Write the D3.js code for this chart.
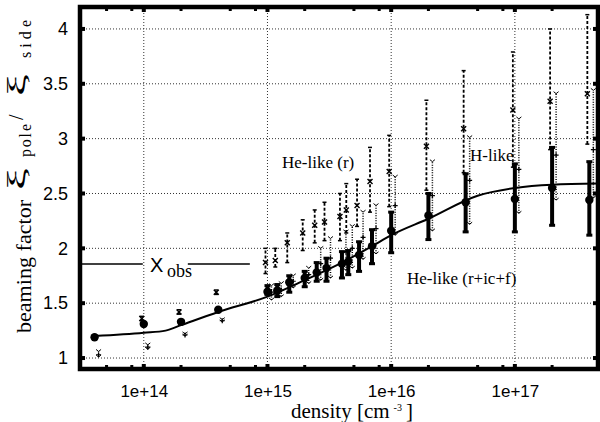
<!DOCTYPE html>
<html>
<head>
<meta charset="utf-8">
<script src="https://cdn.jsdelivr.net/npm/d3@7"></script>
<style>
  body { margin: 0; background: #fff; }
  svg { display: block; }
</style>
</head>
<body>
<svg width="600" height="422"></svg>
<script>
// values (density in cm^-3, beaming factor)
const densities = [4e13, 1e14, 2e14, 4e14, 1e15, 1.2e15, 1.5e15, 2e15, 2.5e15, 3e15,
                   4e15, 4.5e15, 5.5e15, 7e15, 1e16, 2e16, 4e16, 1e17, 2e17, 4e17];

// He-like (r+ic+f) - thick bars + filled dots
const fullVals = [1.19, 1.31, 1.33, 1.44, 1.605, 1.615, 1.69, 1.73, 1.78, 1.82,
                  1.86, 1.88, 1.94, 2.02, 2.16, 2.30, 2.42, 2.45, 2.55, 2.44];
const fullLo   = [1.18, 1.30, 1.32, 1.43, 1.58, 1.56, 1.60, 1.65, 1.70, 1.70,
                  1.73, 1.76, 1.79, 1.86, 1.96, 2.08, 2.15, 2.15, 2.21, 2.12];
const fullHi   = [1.20, 1.32, 1.34, 1.45, 1.66, 1.67, 1.75, 1.79, 1.87, 1.91,
                  1.97, 1.98, 2.06, 2.17, 2.33, 2.50, 2.68, 2.77, 2.92, 2.79];

// He-like (r) - dashed bars
const resVals = [null, 1.36, 1.42, 1.60, 1.87, 1.89, 2.05, 2.14, 2.21, 2.24,
                 2.29, 2.35, 2.39, 2.61, 2.70, 2.93, 3.09, 3.26, 3.34, 3.41];
const resLo   = [null, 1.34, 1.40, 1.58, 1.77, 1.83, 1.87, 1.98, 2.05, 2.07,
                 2.07, 2.14, 2.20, 2.33, 2.38, 2.53, 2.69, 2.74, 2.90, 2.95];
const resHi   = [null, 1.38, 1.44, 1.62, 2.00, 2.00, 2.14, 2.26, 2.35, 2.42,
                 2.50, 2.59, 2.63, 2.92, 3.03, 3.35, 3.62, 3.79, 4.00, 4.13];

// H-like - dotted bars
const hVals = [1.03, 1.10, 1.21, 1.34, 1.60, 1.62, 1.70, 1.76, 1.86, 1.91,
               1.97, 2.00, 2.10, 2.18, 2.39, 2.48, 2.62, 2.72, 2.85, 2.90];
const hLo   = [1.01, 1.08, 1.20, 1.33, 1.53, 1.56, 1.64, 1.68, 1.71, 1.73,
               1.80, 1.82, 1.90, 1.95, 2.12, 2.16, 2.22, 2.32, 2.44, 2.46];
const hHi   = [1.06, 1.12, 1.22, 1.35, 1.66, 1.68, 1.75, 1.82, 2.00, 2.09,
               2.15, 2.20, 2.33, 2.39, 2.65, 2.79, 3.01, 3.18, 3.41, 3.44];

// model curve
const curveDens = [4e13, 1e14, 1.5e14, 2e14, 4e14, 1e15, 2e15, 4e15, 7e15, 1e16,
                   2e16, 5e16, 1e17, 2e17, 4.7e17];
const curveVals = [1.20, 1.23, 1.25, 1.30, 1.42, 1.56, 1.71, 1.87, 2.02, 2.12,
                   2.27, 2.48, 2.55, 2.58, 2.59];

const xTicks = [1e14, 1e15, 1e16, 1e17];
const xMinor = [2e13, 5e13, 8e13, 2e14, 5e14, 8e14, 2e15, 5e15, 8e15, 2e16, 5e16, 8e16, 2e17];
const yTicks = [1, 1.5, 2, 2.5, 3, 3.5, 4];
const xObs = 1.857;

const sans = '"Liberation Sans", Arial, sans-serif';
const serif = '"Liberation Serif", "Times New Roman", serif';

const svg = d3.select('svg');
const plot = { left: 80, right: 598, top: 7, bottom: 369 };

const x = d3.scaleLog().domain([3.05e13, 4.7e17]).range([plot.left, plot.right]);
const y = d3.scaleLinear().domain([0.9, 4.2]).range([plot.bottom, plot.top]);

// dotted grid
const grid = svg.append('g')
    .attr('stroke', '#333')
    .attr('stroke-width', 1)
    .attr('stroke-dasharray', '1,2');
grid.selectAll('.gy').data(yTicks).enter().append('line')
    .attr('x1', plot.left).attr('x2', plot.right)
    .attr('y1', d => y(d)).attr('y2', d => y(d));
grid.selectAll('.gx').data(xTicks).enter().append('line')
    .attr('x1', d => x(d)).attr('x2', d => x(d))
    .attr('y1', plot.top).attr('y2', plot.bottom);

// tick squares on all four sides
const ticks = svg.append('g').attr('fill', '#000');
yTicks.forEach(v => {
    ticks.append('rect').attr('x', plot.left).attr('y', y(v) - 2).attr('width', 5).attr('height', 4);
    ticks.append('rect').attr('x', plot.right - 5).attr('y', y(v) - 2).attr('width', 5).attr('height', 4);
});
xTicks.forEach(v => {
    ticks.append('rect').attr('x', x(v) - 2).attr('y', plot.bottom - 5).attr('width', 4).attr('height', 5);
    ticks.append('rect').attr('x', x(v) - 2).attr('y', plot.top).attr('width', 4).attr('height', 5);
});
xMinor.filter(v => x(v) > plot.left + 3 && x(v) < plot.right - 3).forEach(v => {
    ticks.append('rect').attr('x', x(v) - 1.5).attr('y', plot.bottom - 4).attr('width', 3).attr('height', 3);
    ticks.append('rect').attr('x', x(v) - 1.5).attr('y', plot.top + 1).attr('width', 3).attr('height', 3);
});

// axis labels via d3 axes (no tick lines, no domain)
svg.append('g')
    .attr('transform', `translate(${plot.left},0)`)
    .call(d3.axisLeft(y).tickValues(yTicks).tickSize(0).tickPadding(12).tickFormat(d => String(d)))
    .call(g => g.select('.domain').remove())
    .selectAll('text')
    .attr('font-family', sans).attr('font-size', 18).attr('fill', '#000');

svg.append('g')
    .attr('transform', `translate(0,${plot.bottom})`)
    .call(d3.axisBottom(x).tickValues(xTicks).tickSize(0).tickPadding(16)
        .tickFormat(d => '1e+' + Math.round(Math.log10(d))))
    .call(g => g.select('.domain').remove())
    .selectAll('text')
    .attr('font-family', sans).attr('font-size', 17).attr('fill', '#000');

// build rows for each series
function rows(vals, lo, hi) {
    return densities.map((d, i) => ({ d: d, v: vals[i], lo: lo[i], hi: hi[i] }))
        .filter(r => r.v !== null);
}
const fullData = rows(fullVals, fullLo, fullHi);
const resData = rows(resVals, resLo, resHi);
const hData = rows(hVals, hLo, hHi);

// He-like (r): dashed bars, slightly left
const res = svg.append('g').attr('stroke', '#000').attr('fill', 'none');
resData.forEach(r => {
    const cx = x(r.d) - 2;
    res.append('line').attr('x1', cx).attr('x2', cx)
        .attr('y1', y(r.lo)).attr('y2', y(r.hi))
        .attr('stroke-width', 1.8).attr('stroke-dasharray', '3,2');
    [r.lo, r.hi].forEach(e => res.append('line')
        .attr('x1', cx - 2).attr('x2', cx + 2).attr('y1', y(e)).attr('y2', y(e)).attr('stroke-width', 1.5));
    res.append('path')
        .attr('d', `M${cx - 2.5},${y(r.v) - 2.5}L${cx + 2.5},${y(r.v) + 2.5}M${cx + 2.5},${y(r.v) - 2.5}L${cx - 2.5},${y(r.v) + 2.5}`)
        .attr('stroke-width', 1.4);
});

// H-like: dotted bars, slightly right
const hl = svg.append('g').attr('stroke', '#000').attr('fill', 'none');
hData.forEach(r => {
    const cx = x(r.d) + 4;
    hl.append('line').attr('x1', cx).attr('x2', cx)
        .attr('y1', y(r.lo)).attr('y2', y(r.hi))
        .attr('stroke-width', 1.5).attr('stroke-dasharray', '1,1.5');
    [r.lo, r.hi].forEach(e => hl.append('path')
        .attr('d', `M${cx - 2.5},${y(e) - 2}L${cx},${y(e)}L${cx + 2.5},${y(e) - 2}`).attr('stroke-width', 1));
    hl.append('path')
        .attr('d', `M${cx - 2.5},${y(r.v)}L${cx + 2.5},${y(r.v)}M${cx},${y(r.v) - 2.5}L${cx},${y(r.v) + 2.5}`)
        .attr('stroke-width', 1.2);
});

// model curve
const line = d3.line()
    .x((d, i) => x(d))
    .y((d, i) => y(curveVals[i]))
    .curve(d3.curveMonotoneX);
svg.append('path')
    .datum(curveDens)
    .attr('fill', 'none')
    .attr('stroke', '#000')
    .attr('stroke-width', 2)
    .attr('d', line);

// He-like (r+ic+f): thick bars with square caps and dots
const full = svg.append('g');
full.selectAll('.bar').data(fullData).enter().append('line')
    .attr('x1', d => x(d.d)).attr('x2', d => x(d.d))
    .attr('y1', d => y(d.lo)).attr('y2', d => y(d.hi))
    .attr('stroke', '#000').attr('stroke-width', 4);
fullData.forEach(r => {
    [r.lo, r.hi].forEach(e => full.append('rect')
        .attr('x', x(r.d) - 3).attr('y', y(e) - 1.5).attr('width', 6).attr('height', 3).attr('fill', '#000'));
});
full.selectAll('circle').data(fullData).enter().append('circle')
    .attr('cx', d => x(d.d)).attr('cy', d => y(d.v)).attr('r', 4.2).attr('fill', '#000');

// observed value line with X_obs label
const obsG = svg.append('g');
obsG.append('line')
    .attr('x1', plot.left).attr('x2', x(1e14) - 1)
    .attr('y1', y(xObs)).attr('y2', y(xObs))
    .attr('stroke', '#000').attr('stroke-width', 1.5);
obsG.append('line')
    .attr('x1', x(2.27e14)).attr('x2', x(7.2e14))
    .attr('y1', y(xObs)).attr('y2', y(xObs))
    .attr('stroke', '#000').attr('stroke-width', 1.5);
obsG.append('text')
    .attr('x', 150).attr('y', 272)
    .attr('font-family', sans).attr('font-size', 20)
    .text('X');
obsG.append('text')
    .attr('x', 167).attr('y', 277)
    .attr('font-family', serif).attr('font-size', 18)
    .text('obs');

// series labels
svg.append('text').attr('x', 282).attr('y', 168)
    .attr('font-family', serif).attr('font-size', 17).text('He-like (r)');
svg.append('text').attr('x', 470).attr('y', 161)
    .attr('font-family', serif).attr('font-size', 17).text('H-like');
svg.append('text').attr('x', 407).attr('y', 284)
    .attr('font-family', serif).attr('font-size', 17).text('He-like (r+ic+f)');

// frame
svg.append('rect')
    .attr('x', plot.left).attr('y', plot.top)
    .attr('width', plot.right - plot.left).attr('height', plot.bottom - plot.top)
    .attr('fill', 'none').attr('stroke', '#000').attr('stroke-width', 4.5);

// x title
const xt = svg.append('text')
    .attr('x', 352).attr('y', 418)
    .attr('text-anchor', 'middle')
    .attr('font-family', serif).attr('font-size', 21);
xt.append('tspan').text('density [cm');
xt.append('tspan').attr('font-size', 10).attr('dx', 4).attr('dy', -7).text('-3');
xt.append('tspan').attr('dx', 4).attr('dy', 7).text(']');

// y title, rotated; pieces placed along the axis (x here = -screen y)
const yt = svg.append('g')
    .attr('transform', 'translate(31,0) rotate(-90)')
    .attr('font-family', serif);
yt.append('text').attr('x', -333).attr('y', 0)
    .attr('font-size', 22).attr('textLength', 133).text('beaming factor');
yt.append('text').attr('x', -190).attr('y', -6)
    .attr('font-size', 25).attr('textLength', 22).attr('lengthAdjust', 'spacingAndGlyphs')
    .text('\u03be');
yt.append('text').attr('x', -157).attr('y', 0)
    .attr('font-size', 16).attr('textLength', 33).text('pole');
yt.append('text').attr('x', -120).attr('y', -8)
    .attr('font-size', 20).text('/');
yt.append('text').attr('x', -96).attr('y', -6)
    .attr('font-size', 25).attr('textLength', 22).attr('lengthAdjust', 'spacingAndGlyphs')
    .text('\u03be');
yt.append('text').attr('x', -58).attr('y', 0)
    .attr('font-size', 16).attr('textLength', 38).text('side');
</script>
</body>
</html>
